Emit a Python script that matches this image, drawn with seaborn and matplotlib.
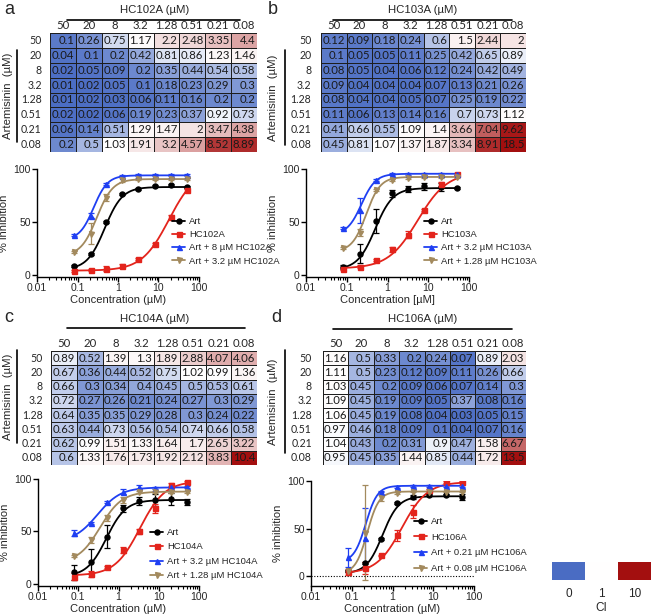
import numpy as np
import pandas as pd
import matplotlib
matplotlib.use('Agg')
import matplotlib.pyplot as plt
import seaborn as sns
from matplotlib.colors import LinearSegmentedColormap, TwoSlopeNorm
from matplotlib.lines import Line2D
from matplotlib.ticker import FixedLocator, LogLocator, NullFormatter

# ---------------- data ----------------
hc_labels = ['50', '20', '8', '3.2', '1.28', '0.51', '0.21', '0.08']
art_labels = ['50', '20', '8', '3.2', '1.28', '0.51', '0.21', '0.08']

ci_a = [[0.1, 0.26, 0.75, 1.17, 2.2, 2.48, 3.35, 4.4],
        [0.04, 0.1, 0.2, 0.42, 0.81, 0.86, 1.23, 1.46],
        [0.02, 0.05, 0.09, 0.2, 0.35, 0.44, 0.54, 0.58],
        [0.01, 0.02, 0.05, 0.1, 0.18, 0.23, 0.29, 0.3],
        [0.01, 0.02, 0.03, 0.06, 0.11, 0.16, 0.2, 0.2],
        [0.02, 0.02, 0.06, 0.19, 0.23, 0.37, 0.92, 0.73],
        [0.06, 0.14, 0.51, 1.29, 1.47, 2, 3.47, 4.38],
        [0.2, 0.5, 1.03, 1.91, 3.2, 4.57, 8.52, 8.89]]
ci_b = [[0.12, 0.09, 0.18, 0.24, 0.6, 1.5, 2.44, 2],
        [0.1, 0.05, 0.05, 0.11, 0.25, 0.42, 0.65, 0.89],
        [0.08, 0.05, 0.04, 0.06, 0.12, 0.24, 0.42, 0.49],
        [0.09, 0.04, 0.04, 0.04, 0.07, 0.13, 0.21, 0.26],
        [0.08, 0.04, 0.04, 0.05, 0.07, 0.25, 0.19, 0.22],
        [0.11, 0.06, 0.13, 0.14, 0.16, 0.7, 0.73, 1.12],
        [0.41, 0.66, 0.55, 1.09, 1.4, 3.66, 7.04, 9.62],
        [0.45, 0.81, 1.07, 1.37, 1.87, 3.34, 8.91, 18.5]]
ci_c = [[0.89, 0.52, 1.39, 1.3, 1.89, 2.88, 4.07, 4.06],
        [0.67, 0.36, 0.44, 0.52, 0.75, 1.02, 0.99, 1.36],
        [0.66, 0.3, 0.34, 0.4, 0.45, 0.5, 0.53, 0.61],
        [0.72, 0.27, 0.26, 0.21, 0.24, 0.27, 0.3, 0.29],
        [0.64, 0.35, 0.35, 0.29, 0.28, 0.3, 0.24, 0.22],
        [0.63, 0.44, 0.73, 0.56, 0.54, 0.74, 0.66, 0.58],
        [0.62, 0.99, 1.51, 1.33, 1.64, 1.7, 2.65, 3.22],
        [0.6, 1.33, 1.76, 1.73, 1.92, 2.12, 3.83, 10.4]]
ci_d = [[1.16, 0.5, 0.33, 0.2, 0.24, 0.07, 0.89, 2.03],
        [1.11, 0.5, 0.23, 0.12, 0.09, 0.11, 0.26, 0.66],
        [1.03, 0.45, 0.2, 0.09, 0.06, 0.07, 0.14, 0.3],
        [1.09, 0.45, 0.19, 0.09, 0.05, 0.37, 0.08, 0.16],
        [1.06, 0.45, 0.19, 0.08, 0.04, 0.03, 0.05, 0.15],
        [0.97, 0.46, 0.18, 0.09, 0.1, 0.04, 0.07, 0.16],
        [1.04, 0.43, 0.2, 0.31, 0.9, 0.47, 1.58, 6.67],
        [0.95, 0.45, 0.35, 1.44, 0.85, 0.44, 1.72, 13.5]]

conc = [0.08, 0.21, 0.51, 1.28, 3.2, 8, 20, 50]

# panel a
a_art = [8, 19.6, 50, 76, 81.5, 84, 85, 83]
a_art_err = [1, 1, 1, 1, 1, 1, 1, 1]
a_hc = [4, 4.5, 6, 8.5, 15, 29, 55, 80]
a_hc_err = [1, 1, 2, 2, 1, 1, 2, 1.5]
a_c1 = [38, 56, 86, 93.5, 94, 94, 94.5, 94]
a_c1_err = [1, 2, 1, 1, 1, 1, 1, 1]
a_c2 = [22, 39, 73, 89.5, 90.5, 90.5, 90.5, 90.5]
a_c2_err = [1, 10, 3, 2, 1, 1, 1, 1]
# panel b
b_art = [7.3, 20, 51, 77, 81, 83.5, 83, 82]
b_art_err = [2, 9, 11.5, 3, 3, 3, 4, 1]
b_hc = [5.4, 7.9, 14, 24, 38, 61, 86, 95]
b_hc_err = [1, 1, 1, 2, 3, 1, 2, 1]
b_c1 = [44, 61, 90, 95, 95, 95.5, 95.5, 95.5]
b_c1_err = [1, 12, 1, 1, 1, 1, 1, 1]
b_c2 = [25, 40, 80, 90, 91.5, 92.5, 92.5, 92.5]
b_c2_err = [1, 3, 1, 1, 1, 1, 1, 1]
# panel c
c_art = [11, 21, 45, 72, 79, 80, 81, 78]
c_art_err = [7, 12, 11, 3, 4, 6, 6, 3]
c_hc = [7, 9.5, 16, 32.5, 50, 72, 94, 97]
c_hc_err = [3, 3, 1, 3, 2, 4, 2, 1]
c_c1 = [48.5, 58, 78, 88, 92, 91, 92, 92.5]
c_c1_err = [3, 1, 1, 2, 2, 1, 1, 1]
c_c2 = [27, 42, 63, 80, 87.5, 87.5, 87.5, 88]
c_c2_err = [1, 3, 3, 3, 1, 1, 1, 1]
# panel d
d_art = [6, 14.5, 39, 76.5, 83, 85, 85, 83]
d_art_err = [1, 1, 1, 1, 2, 1, 1, 3]
d_hc = [4.5, 9, 22, 43, 68, 91, 99, 99]
d_hc_err = [3, 6, 1, 6, 7, 1, 1, 1]
d_c1 = [20, 40, 89, 94, 95, 95, 95, 95]
d_c1_err = [10, 32, 1, 1, 1, 1, 1, 1]
d_c2 = [6, 46, 82, 87, 89, 89, 89, 89]
d_c2_err = [1, 50, 3, 1, 1, 1, 1, 1]

# fitted 4-parameter logistic curves: (bottom, top, EC50, hill)
a_fits = [(5, 83, 0.47, 2.0), (4, 100, 18, 1.3), (33, 94, 0.25, 2.5), (18, 90.5, 0.3, 2.2)]
b_fits = [(5, 82, 0.5, 2.0), (6, 97, 5.5, 1.2), (38, 95.5, 0.23, 2.5), (22, 92.5, 0.3, 2.5)]
c_fits = [(7, 80, 0.5, 1.8), (8, 98, 3.4, 1.4), (40, 92, 0.3, 1.5), (20, 88, 0.35, 1.6)]
d_fits = [(3, 84, 0.57, 2.2), (3, 99, 1.7, 1.4), (15, 95, 0.22, 3.0), (3, 89, 0.24, 3.0)]

ci_scale_values = [0, 1, 10]
ci_scale_labels = ['0', '1', '10']

# ---------------- style ----------------
sns.set_style('white')
plt.rcParams['font.family'] = ['Liberation Sans', 'DejaVu Sans']
HMFONT = ['Lato', 'DejaVu Sans']
LEGFONT = ['Liberation Sans', 'DejaVu Sans']
LEGSIZE = 6.8

W, H = 653, 615
fig = plt.figure(figsize=(W / 100, H / 100), dpi=100)


def rect(x0, y0, x1, y1):
    return [x0 / W, 1 - y1 / H, (x1 - x0) / W, (y1 - y0) / H]


def fline(x0, y0, x1, y1, lw=1.2):
    fig.add_artist(Line2D([x0 / W, x1 / W], [1 - y0 / H, 1 - y1 / H],
                          transform=fig.transFigure, color='black', lw=lw))


def ftext(x, y, s, **kw):
    fig.text(x / W, 1 - y / H, s, **kw)


cmap = LinearSegmentedColormap.from_list(
    'ci', [(0.0, '#4a6cc3'), (0.5, '#ffffff'), (1.0, '#a30f0f')])
norm = TwoSlopeNorm(vmin=0, vcenter=1, vmax=10)

SERIES_COLORS = ['#000000', '#e3241c', '#1f3ff2', '#a38a5e']
SERIES_MARKERS = ['o', 's', '^', 'v']


def heatmap(box, data, compound, letter, letter_xy, title_xy, tline, ylab_x, vbar, label_pad):
    ax = fig.add_axes(rect(*box))
    df = pd.DataFrame(data, index=art_labels, columns=hc_labels)
    annot = df.map(lambda v: f'{v:g}')
    sns.heatmap(df, ax=ax, cmap=cmap, norm=norm, cbar=False, linewidths=0.6,
                linecolor='#1e1e1e', annot=annot, fmt='', xticklabels=True, yticklabels=True,
                annot_kws=dict(fontsize=8.2, color='#1a1a1a', family=HMFONT))
    for t in ax.texts:
        x, y = t.get_position()
        t.set_position((x + 0.43, y))
        t.set_ha('right')
    ax.xaxis.tick_top()
    ax.tick_params(length=0, pad=1.5, labelsize=8.2)
    ax.tick_params(axis='y', labelsize=7.6, pad=label_pad)
    for lab in ax.get_xticklabels() + ax.get_yticklabels():
        lab.set_family(HMFONT)
        lab.set_rotation(0)
    ax.set_xlabel('')
    ax.set_ylabel('')
    ftext(*letter_xy, letter, fontsize=13, ha='center', va='center')
    ftext(*title_xy, f'{compound} (µM)', fontsize=8.2, ha='center', va='center')
    fline(*tline)
    ftext(ylab_x, (vbar[1] + vbar[3]) / 2, 'Artemisinin  (µM)', fontsize=8.2,
          rotation=90, ha='center', va='center')
    fline(*vbar)


def logistic(x, p):
    b, t, ec, h = p
    return b + (t - b) / (1 + (ec / x) ** h)


def curves(box, series, errs, fits, labels, xlabel, leg_xy, leg_sp, ybot, dotted=False):
    ax = fig.add_axes(rect(*box))
    xs = np.logspace(np.log10(0.08), np.log10(50), 200)
    for vals, err, p, col, mk in zip(series, errs, fits, SERIES_COLORS, SERIES_MARKERS):
        sns.lineplot(x=xs, y=logistic(xs, p), ax=ax, color=col, lw=1.3)
        ax.errorbar(conc, vals, yerr=err, fmt=mk, color=col, ms=3.6, capsize=2,
                    elinewidth=0.9, capthick=0.9)
    if dotted:
        ax.axhline(0, color='black', lw=0.8, ls=(0, (1, 1.5)))
    ax.set_xscale('log')
    ax.set_xlim(0.01, 100)
    ax.set_ylim(ybot, 100)
    ax.xaxis.set_major_locator(FixedLocator([0.01, 0.1, 1, 10, 100]))
    ax.set_xticklabels(['0.01', '0.1', '1', '10', '100'])
    ax.xaxis.set_minor_locator(LogLocator(base=10, subs=np.arange(2, 10)))
    ax.xaxis.set_minor_formatter(NullFormatter())
    ax.set_yticks([0, 50, 100])
    ax.set_yticklabels(['0', '50', '100'])
    for s in ['top', 'right']:
        ax.spines[s].set_visible(False)
    for s in ['left', 'bottom']:
        ax.spines[s].set_color('black')
        ax.spines[s].set_linewidth(1.0)
    ax.tick_params(which='major', direction='out', length=3.5, width=1, labelsize=7.5, pad=1,
                   bottom=True, left=True, color='black')
    ax.tick_params(which='minor', axis='x', direction='out', length=2, width=0.8, bottom=True, color='black')
    ax.set_xlabel(xlabel, fontsize=8, labelpad=1)
    ax.set_ylabel('% inhibition', fontsize=8, labelpad=3)
    handles = [Line2D([], [], color=c, marker=m, ms=3.6, lw=1.3)
               for c, m in zip(SERIES_COLORS, SERIES_MARKERS)]
    ax.legend(handles, labels, loc='upper left', bbox_to_anchor=(leg_xy[0] / W, 1 - leg_xy[1] / H),
              bbox_transform=fig.transFigure, frameon=False, borderpad=0, borderaxespad=0,
              handlelength=1.4, handletextpad=0.4, labelspacing=leg_sp,
              prop=dict(family=LEGFONT, size=LEGSIZE))


# ---------------- heatmaps ----------------
heatmap((50, 33, 257, 152), ci_a, 'HC102A', 'a', (9, 9), (155, 10), (67, 20, 240, 20), 8, (17, 50, 17, 142), 6)
heatmap((321, 33, 526, 152), ci_b, 'HC103A', 'b', (273, 9), (423, 10), (333, 20, 512, 20), 273, (285, 50, 285, 145), 7)
heatmap((51, 351, 257, 465), ci_c, 'HC104A', 'c', (9, 318), (155, 319), (67, 328, 245, 328), 8, (17, 350, 17, 443), 6)
heatmap((323, 351, 526, 465), ci_d, 'HC106A', 'd', (276, 318), (423, 319), (333, 329, 512, 329), 273, (285, 350, 285, 453), 8)

# ---------------- dose-response curves ----------------
curves((37, 169, 199, 277), [a_art, a_hc, a_c1, a_c2], [a_art_err, a_hc_err, a_c1_err, a_c2_err], a_fits,
       ['Art', 'HC102A', 'Art + 8 µM HC102A', 'Art + 3.2 µM HC102A'],
       'Concentration (µM)', (172, 217), 0.45, -2)
curves((306, 169, 469, 277), [b_art, b_hc, b_c1, b_c2], [b_art_err, b_hc_err, b_c1_err, b_c2_err], b_fits,
       ['Art', 'HC103A', 'Art + 3.2 µM HC103A', 'Art + 1.28 µM HC103A'],
       'Concentration [µM]', (424, 217), 0.45, -2)
curves((38, 479, 199, 586), [c_art, c_hc, c_c1, c_c2], [c_art_err, c_hc_err, c_c1_err, c_c2_err], c_fits,
       ['Art', 'HC104A', 'Art + 3.2 µM HC104A', 'Art + 1.28 µM HC104A'],
       'Concentration (µM)', (150, 528), 0.58, -2)
curves((311, 481, 474, 586), [d_art, d_hc, d_c1, d_c2], [d_art_err, d_hc_err, d_c1_err, d_c2_err], d_fits,
       ['Art', 'HC106A', 'Art + 0.21 µM HC106A', 'Art + 0.08 µM HC106A'],
       'Concentration (µM)', (414, 517), 0.7, -10, dotted=True)

# ---------------- CI scale ----------------
axs = fig.add_axes(rect(552, 562, 651, 580))
sns.heatmap(pd.DataFrame([ci_scale_values], columns=ci_scale_labels), ax=axs, cmap=cmap, norm=norm,
            cbar=False, xticklabels=True, yticklabels=False)
axs.tick_params(length=0, labelsize=8.5, pad=6)
for lab in axs.get_xticklabels():
    lab.set_rotation(0)
axs.set_xlabel('CI', fontsize=8.5, labelpad=1)
axs.set_ylabel('')

fig.savefig('out.png', dpi=100)
